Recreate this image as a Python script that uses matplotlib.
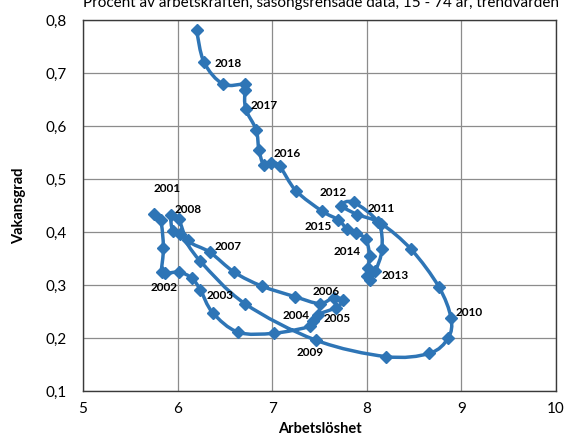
import matplotlib
matplotlib.use("Agg")
import matplotlib.pyplot as plt
from matplotlib.path import Path
from matplotlib.patches import PathPatch
import numpy as np

# --- data ---
unemployment = [5.75, 5.82, 5.85, 5.83, 5.87, 6.02, 6.15, 6.24, 6.37, 6.64, 7.02,
                7.40, 7.43, 7.48, 7.67, 7.75, 7.65, 7.50, 7.24, 6.89, 6.60, 6.34,
                6.11, 6.01, 5.93, 5.95, 6.03, 6.24, 6.71, 7.46, 8.20, 8.66, 8.86,
                8.89, 8.76, 8.47, 8.15, 7.90, 7.73, 7.86, 8.12, 8.16, 8.09, 8.03,
                8.00, 8.01, 8.03, 7.99, 7.89, 7.79, 7.70, 7.53, 7.25, 7.08, 6.99,
                6.91, 6.86, 6.83, 6.72, 6.71, 6.71, 6.48, 6.28, 6.20]
vacancy = [0.434, 0.423, 0.370, 0.325, 0.322, 0.324, 0.313, 0.291, 0.248, 0.211, 0.209,
           0.222, 0.232, 0.244, 0.257, 0.271, 0.276, 0.265, 0.278, 0.298, 0.324, 0.362,
           0.384, 0.425, 0.433, 0.401, 0.396, 0.345, 0.265, 0.196, 0.165, 0.171, 0.200,
           0.238, 0.297, 0.367, 0.416, 0.433, 0.450, 0.456, 0.418, 0.367, 0.326, 0.310,
           0.317, 0.332, 0.355, 0.386, 0.398, 0.406, 0.423, 0.439, 0.478, 0.524, 0.531,
           0.527, 0.555, 0.593, 0.632, 0.668, 0.679, 0.679, 0.720, 0.781]

year_labels = ["2001", "2002", "2003", "2004", "2005", "2006", "2007", "2008", "2009",
               "2010", "2011", "2012", "2013", "2014", "2015", "2016", "2017", "2018"]
label_x = [5.89, 5.86, 6.45, 7.25, 7.69, 7.565, 6.53, 6.11, 7.40,
           9.08, 8.155, 7.64, 8.30, 7.795, 7.49, 7.16, 6.91, 6.54]
label_y = [0.482, 0.295, 0.280, 0.243, 0.236, 0.288, 0.373, 0.442, 0.173,
           0.248, 0.445, 0.475, 0.317, 0.364, 0.411, 0.549, 0.638, 0.718]

x_ticks = [5, 6, 7, 8, 9, 10]
y_ticks = [0.1, 0.2, 0.3, 0.4, 0.5, 0.6, 0.7, 0.8]

title_text = "Procent av arbetskraften, säsongsrensade data, 15 - 74 år, trendvärden"
x_title = "Arbetslöshet"
y_title = "Vakansgrad"

BLUE = "#2E75B6"
plt.rcParams['font.family'] = ['Lato', 'DejaVu Sans']

fig = plt.figure(figsize=(5.67, 4.41), dpi=100)
ax = fig.add_axes([83 / 567, 1 - 391 / 441, (556 - 83) / 567, (391 - 20) / 441])

# smoothed line (Catmull-Rom as cubic Bezier, like Excel smoothing)
P = np.column_stack([unemployment, vacancy])
n = len(P)
verts = [tuple(P[0])]
codes = [Path.MOVETO]
for i in range(n - 1):
    p0 = P[i - 1] if i > 0 else P[i]
    p1 = P[i]
    p2 = P[i + 1]
    p3 = P[i + 2] if i + 2 < n else P[i + 1]
    c1 = p1 + (p2 - p0) / 6.0
    c2 = p2 - (p3 - p1) / 6.0
    verts += [tuple(c1), tuple(c2), tuple(p2)]
    codes += [Path.CURVE4] * 3
ax.add_patch(PathPatch(Path(verts, codes), facecolor='none', edgecolor=BLUE,
                       lw=2.5, capstyle='round', joinstyle='round', zorder=3))
ax.plot(unemployment, vacancy, linestyle='none', marker='D', markersize=6,
        color=BLUE, zorder=4)

for t, lx, ly in zip(year_labels, label_x, label_y):
    ax.text(lx, ly, t, ha='center', va='center', fontsize=8.5, fontweight='bold',
            color='black', zorder=5)

ax.set_xlim(5, 10)
ax.set_ylim(0.1, 0.8)
ax.set_xticks(x_ticks)
ax.set_yticks(y_ticks)
ax.set_xticklabels([str(v) for v in x_ticks], fontsize=11)
ax.set_yticklabels([f"{v:.1f}".replace('.', ',') for v in y_ticks], fontsize=11)
ax.tick_params(length=0, pad=8)
ax.tick_params(axis='y', pad=12)
ax.grid(True, color='#8c8c8c', lw=0.9)
ax.set_axisbelow(True)
for s in ax.spines.values():
    s.set_color('#3a3a3a')
    s.set_linewidth(1.0)

ax.set_xlabel(x_title, fontsize=10.5, fontweight='bold', labelpad=4)
ax.set_ylabel(y_title, fontsize=10.5, fontweight='bold', labelpad=14)

fig.text(83 / 567, 1 - 7 / 441, title_text, fontsize=11, ha='left', va='baseline')

fig.savefig("out.png", dpi=100)
